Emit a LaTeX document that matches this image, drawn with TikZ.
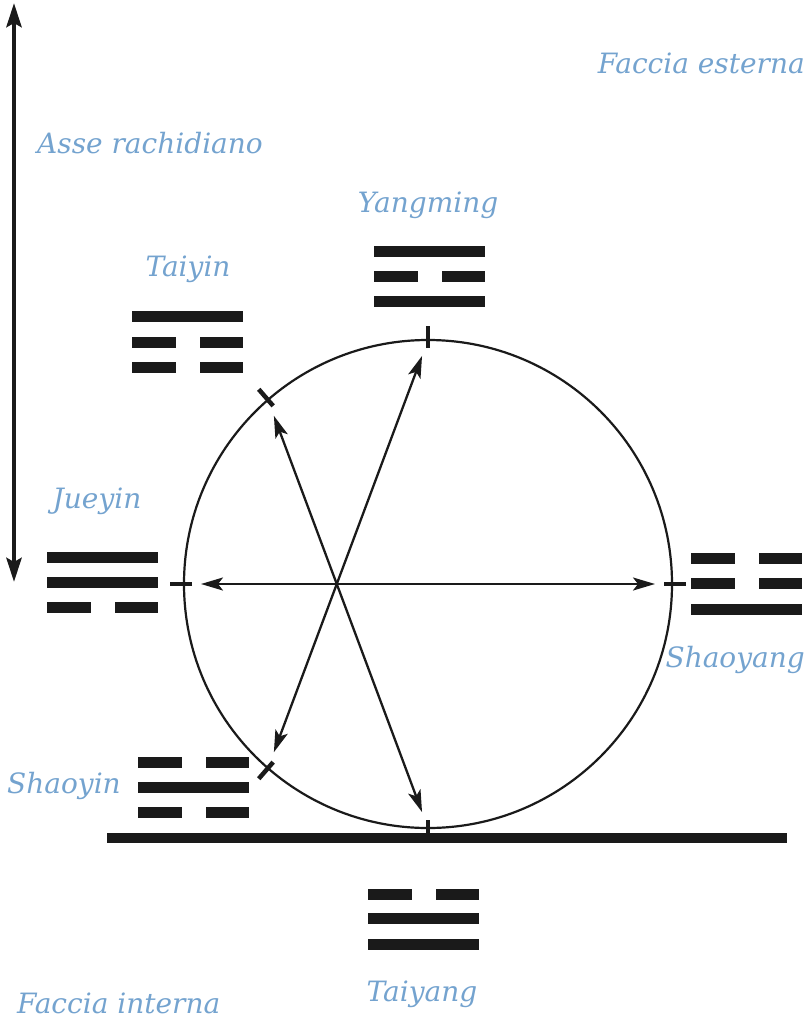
\documentclass[tikz,border=0pt]{standalone}
\usepackage{fontspec}
\setmainfont{DejaVu Serif}
\usetikzlibrary{arrows.meta,calc}
\definecolor{lbl}{RGB}{116,163,207}
\definecolor{ink}{RGB}{26,26,26}
\newcommand\ysolid[2]{\fill[ink] (#1,#2) rectangle ++(111,10.5);}
\newcommand\ybroken[2]{\fill[ink] (#1,#2) rectangle ++(43.5,10.5);\fill[ink] (#1+67.5,#2) rectangle ++(43.5,10.5);}
\begin{document}
\begin{tikzpicture}[x=1pt,y=-1pt,
  lab/.style={text=lbl,font=\itshape\fontsize{28}{32}\selectfont,inner sep=0pt},
  tickmark/.style={line width=4.5pt,draw=ink},
  arr/.style={line width=2.3pt,draw=ink,{Stealth[length=22pt,width=13pt,inset=5pt]}-{Stealth[length=22pt,width=13pt,inset=5pt]},shorten <=17pt,shorten >=17pt},
  bigarr/.style={line width=4.5pt,draw=ink,{Stealth[length=24pt,width=15pt,inset=4pt]}-{Stealth[length=24pt,width=15pt,inset=4pt]}}]
\useasboundingbox (0,0) rectangle (810,1023);
% circle
\node[circle,draw=ink,line width=2.2pt,minimum size=488pt,inner sep=0pt,outer sep=0pt] (C) at (428,584) {};
% ticks on circle
\foreach \a in {0,90,131,180,229,270}{
  \coordinate (t\a) at (C.\a);
  \draw[tickmark] ($(C.center)!236pt!(t\a)$) -- ($(C.center)!258pt!(t\a)$);
}
% arrows through the circle
\draw[arr] (t180) -- (t0);
\draw[arr] (t131) -- (t270);
\draw[arr] (t229) -- (t90);
% horizontal base bar
\coordinate (hb1) at (107,838);
\coordinate (hb2) at (787,838);
\draw[line width=10.5pt,draw=ink] (hb1) -- (hb2);
% vertical axis arrow
\coordinate (va) at (14,3);
\coordinate (vb) at (14,582);
\draw[bigarr] (va) -- (vb);
% trigrams
% Yangming
\ysolid{374}{246}\ybroken{374}{271}\ysolid{374}{296}
% Taiyin
\ysolid{132}{311}\ybroken{132}{337}\ybroken{132}{362}
% Jueyin
\ysolid{47}{552}\ysolid{47}{577}\ybroken{47}{602}
% Shaoyang
\ybroken{691}{553}\ybroken{691}{578}\ysolid{691}{604}
% Shaoyin
\ybroken{138}{757}\ysolid{138}{782}\ybroken{138}{807}
% Taiyang
\ybroken{368}{889}\ysolid{368}{913}\ysolid{368}{939}
% labels
\node[lab,anchor=base west] (asse) at (37,153) {Asse rachidiano};
\node[lab,anchor=base east] (fest) at (805,73) {Faccia esterna};
\node[lab,anchor=base] (yangming) at (428,212) {Yangming};
\node[lab,anchor=base] (taiyin) at (188,276) {Taiyin};
\node[lab,anchor=base] (jueyin) at (97,508) {Jueyin};
\node[lab,anchor=base east] (shaoyang) at (805,667) {Shaoyang};
\node[lab,anchor=base west] (shaoyin) at (7,793) {Shaoyin};
\node[lab,anchor=base] (taiyang) at (422,1001) {Taiyang};
\node[lab,anchor=base west] (fint) at (17,1013) {Faccia interna};
\end{tikzpicture}
\end{document}
